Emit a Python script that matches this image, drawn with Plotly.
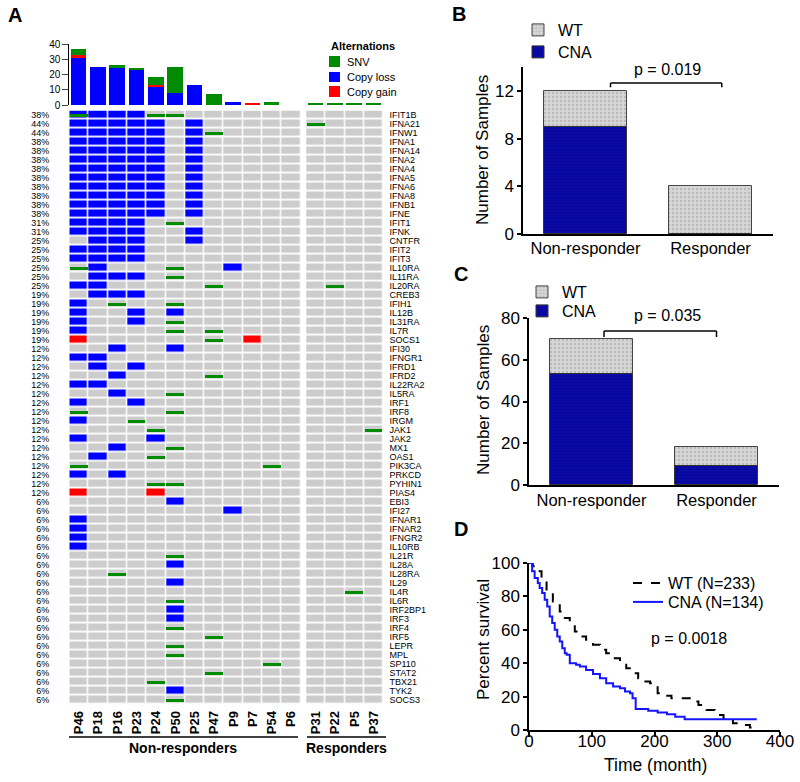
import plotly.graph_objects as go

W, H = 800, 782
def px(x): return x / W
def py(y): return 1 - y / H

FONT = "Arial, 'Liberation Sans', sans-serif"

# ---------------- Panel A data ----------------
samples = ["P46", "P18", "P16", "P23", "P24", "P50", "P25", "P47", "P9", "P7", "P54", "P6",
           "P31", "P22", "P5", "P37"]
col_pos = [0, 1, 2, 3, 4, 5, 6, 7, 8, 9, 10, 11, 12.28, 13.28, 14.28, 15.28]
n_nonresp = 12

genes = ["IFIT1B", "IFNA21", "IFNW1", "IFNA1", "IFNA14", "IFNA2", "IFNA4", "IFNA5", "IFNA6", "IFNA8",
         "IFNB1", "IFNE", "IFIT1", "IFNK", "CNTFR", "IFIT2", "IFIT3", "IL10RA", "IL11RA", "IL20RA",
         "CREB3", "IFIH1", "IL12B", "IL31RA", "IL7R", "SOCS1", "IFI30", "IFNGR1", "IFRD1", "IFRD2",
         "IL22RA2", "IL5RA", "IRF1", "IRF8", "IRGM", "JAK1", "JAK2", "MX1", "OAS1", "PIK3CA",
         "PRKCD", "PYHIN1", "PIAS4", "EBI3", "IFI27", "IFNAR1", "IFNAR2", "IFNGR2", "IL10RB", "IL21R",
         "IL28A", "IL28RA", "IL29", "IL4R", "IL6R", "IRF2BP1", "IRF3", "IRF4", "IRF5", "LEPR",
         "MPL", "SP110", "STAT2", "TBX21", "TYK2", "SOCS3"]

pct_labels = ["38%", "44%", "44%", "38%", "38%", "38%", "38%", "38%", "38%", "38%",
              "38%", "38%", "31%", "31%", "25%", "25%", "25%", "25%", "25%", "25%",
              "19%", "19%", "19%", "19%", "19%", "19%", "12%", "12%", "12%", "12%",
              "12%", "12%", "12%", "12%", "12%", "12%", "12%", "12%", "12%", "12%",
              "12%", "12%", "12%", "6%", "6%", "6%", "6%", "6%", "6%", "6%",
              "6%", "6%", "6%", "6%", "6%", "6%", "6%", "6%", "6%", "6%",
              "6%", "6%", "6%", "6%", "6%", "6%"]

# L = copy loss, G = copy gain, S = SNV, X = copy loss + SNV, . = none
alter_rows = [
    "XLLLSS...... ....", "LLLLL.L..... S...", "LLLLL.LS.... ....", "LLLLL.L..... ....",
    "LLLLL.L..... ....", "LLLLL.L..... ....", "LLLLL.L..... ....", "LLLLL.L..... ....",
    "LLLLL.L..... ....", "LLLLL.L..... ....", "LLLLL.L..... ....", "LLLLL.L..... ....",
    "LLLL.S...... ....", "LLLL..L..... ....", ".LLL..L..... ....", "LLLL........ ....",
    "LLLL........ ....", "SL...S..L... ....", ".LLL.S...... ....", "LL.....S.... .S..",
    ".LLL........ ....", "L.S..S...... ....", "L..L.L...... ....", "L..L.S...... ....",
    "L....S.S.... ....", "G......S.G.. ....", "..L..L...... ....", "LL.......... ....",
    ".L.L........ ....", "..L....S.... ....", "LL.......... ....", "..L..S...... ....",
    "L..L........ ....", "S....S...... ....", "L..S........ ....", "....S....... ...S",
    "L...L....... ....", "..L..S...... ....", ".L..S....... ....", "S.........S. ....",
    "L.L......... ....", "....SS...... ....", "G...G....... ....", ".....L...... ....",
    "........L... ....", "L........... ....", "L........... ....", "L........... ....",
    "L........... ....", ".....S...... ....", ".....L...... ....", "..S......... ....",
    ".....L...... ....", "............ ..S.", ".....S...... ....", ".....L...... ....",
    ".....L...... ....", ".....S...... ....", ".......S.... ....", ".....S...... ....",
    ".....S...... ....", "..........S. ....", ".......S.... ....", "....S....... ....",
    ".....L...... ....", ".....S...... ....",
]

top_loss = [31, 25, 24, 23, 12, 8, 13, 0, 2, 0, 0, 0, 0, 0, 0, 0]
top_gain = [2, 0, 0, 0, 1, 0, 0, 0, 0, 1, 0, 0, 0, 0, 0, 0]
top_snv = [4, 0, 2, 1, 5, 17, 0, 7, 0, 0, 2, 0, 1, 1, 1, 1]

# ---------------- Panels B / C data ----------------
groups = ["Non-responder", "Responder"]
b_cna = [9, 0]
b_wt = [3, 4]
c_cna = [53, 9]
c_wt = [17, 9]

# ---------------- Panel D data (Kaplan-Meier) ----------------
wt_t = [0, 6, 12, 20, 28, 38, 49, 57, 65, 73, 81, 91, 102, 113, 123, 134, 145, 155, 166, 174,
        182, 193, 205, 216, 227, 250, 258, 270, 283, 296, 310, 325, 340, 352, 363]
wt_s = [100, 98, 95, 89, 83, 77, 71, 67, 63, 59, 56, 54, 51, 48, 46, 43, 40, 37, 34, 31,
        29, 28, 22, 20.5, 19, 19, 17, 15, 12, 9, 6, 4, 3, 1.5, 0]
cna_t = [0, 5, 9, 14, 17, 21, 25, 29, 33, 37, 41, 45, 49, 53, 57, 60, 65, 75, 81, 91,
         102, 113, 123, 134, 145, 153, 161, 165, 170, 190, 205, 220, 233, 248, 363]
cna_s = [100, 95, 91, 88, 85, 82, 78, 74, 68, 64, 60, 56, 53, 49, 46, 45, 40, 39, 38, 36,
         33.5, 31, 28, 26, 25, 23, 22, 19, 12.5, 11.5, 10.5, 9.5, 8, 6.5, 6.5]

GRAY = "#cccccc"
BLUE = "#0000ff"
RED = "#ff0000"
GREEN = "#008b00"
NAVY = "#0a0aa6"

rows = [r.replace(" ", "") for r in alter_rows]
code = {"L": 1, "X": 1, "G": 2}

fig = go.Figure()

# heatmaps (non-responders and responders)
for cols in (range(0, n_nonresp), range(n_nonresp, len(samples))):
    cols = list(cols)
    z = [[code.get(rows[r][c], 0) for c in cols] for r in range(len(genes))]
    fig.add_trace(go.Heatmap(
        x=[col_pos[c] for c in cols], y=list(range(len(genes))), z=z,
        zmin=0, zmax=2, colorscale=[[0, GRAY], [0.33, GRAY], [0.34, BLUE], [0.66, BLUE], [0.67, RED], [1, RED]],
        showscale=False, xgap=1.5, ygap=1.8, hoverinfo="skip", xaxis="x", yaxis="y"))

# SNV marks
snv_x, snv_base = [], []
for r in range(len(genes)):
    for c in range(len(samples)):
        if rows[r][c] in "SX":
            snv_x.append(col_pos[c])
            snv_base.append(r - 0.19)
fig.add_trace(go.Bar(x=snv_x, y=[0.38] * len(snv_x), base=snv_base, width=0.92,
                     marker=dict(color=GREEN, line=dict(width=0)), showlegend=False,
                     hoverinfo="skip", xaxis="x", yaxis="y"))

# dummy trace for percentage axis
fig.add_trace(go.Scatter(x=[0], y=[0], mode="markers", marker=dict(opacity=0), showlegend=False,
                         hoverinfo="skip", xaxis="x", yaxis="y2"))

# top stacked bars
gain_base = top_loss
snv_base_top = [a + b for a, b in zip(top_loss, top_gain)]
fig.add_trace(go.Bar(x=col_pos, y=top_loss, base=[0] * len(col_pos), width=0.81,
                     marker=dict(color=BLUE, line=dict(width=0)), showlegend=False, xaxis="x2", yaxis="y3"))
fig.add_trace(go.Bar(x=col_pos, y=top_gain, base=gain_base, width=0.81,
                     marker=dict(color=RED, line=dict(width=0)), showlegend=False, xaxis="x2", yaxis="y3"))
fig.add_trace(go.Bar(x=col_pos, y=top_snv, base=snv_base_top, width=0.81,
                     marker=dict(color=GREEN, line=dict(width=0)), showlegend=False, xaxis="x2", yaxis="y3"))

# ---------------- Panel B / C bars ----------------
wt_marker = dict(color="#d6d6d6", line=dict(color="#444444", width=1),
                 pattern=dict(shape=".", fgcolor="#a0a0a0", bgcolor="#d6d6d6", size=4, solidity=0.3))
cna_marker = dict(color=NAVY, line=dict(color="#333333", width=1),
                  pattern=dict(shape="-", fgcolor="#000080", bgcolor=NAVY, size=3, solidity=0.25))

fig.add_trace(go.Bar(x=groups, y=b_wt, base=b_cna, width=0.67, name="WT", marker=wt_marker,
                     xaxis="x3", yaxis="y4", legend="legend"))
fig.add_trace(go.Bar(x=groups, y=b_cna, base=[0, 0], width=0.67, name="CNA", marker=cna_marker,
                     xaxis="x3", yaxis="y4", legend="legend2"))
fig.add_trace(go.Bar(x=groups, y=c_wt, base=c_cna, width=0.67, name="WT", marker=wt_marker,
                     xaxis="x4", yaxis="y5", legend="legend3"))
fig.add_trace(go.Bar(x=groups, y=c_cna, base=[0, 0], width=0.67, name="CNA", marker=cna_marker,
                     xaxis="x4", yaxis="y5", legend="legend4"))

# ---------------- Panel D ----------------
fig.add_trace(go.Scatter(x=wt_t, y=wt_s, mode="lines", line=dict(color="black", width=2, dash="dash", shape="hv"),
                         name="WT (N=233)", xaxis="x5", yaxis="y6", legend="legend5"))
fig.add_trace(go.Scatter(x=cna_t, y=cna_s, mode="lines", line=dict(color="#1414ff", width=2, shape="hv"),
                         name="CNA (N=134)", xaxis="x5", yaxis="y6", legend="legend6"))

# ---------------- Layout ----------------
mx_dom = [px(69.3), px(383.5)]
xr = [-0.5, 15.78]
axis_common = dict(showline=True, linecolor="black", linewidth=1.5, ticks="outside", tickcolor="black",
                   tickwidth=1.5, ticklen=5, showgrid=False, zeroline=False, automargin=False,
                   tickfont=dict(size=17, color="black"))

layout = dict(
    width=W, height=H, margin=dict(l=0, r=0, t=0, b=0, pad=0, autoexpand=False),
    paper_bgcolor="white", plot_bgcolor="white",
    font=dict(family=FONT, color="black"),
    barmode="overlay", bargap=0,
    xaxis=dict(domain=mx_dom, range=xr, anchor="y", showgrid=False, zeroline=False, showline=False,
               tickvals=col_pos, ticktext=["<b>%s</b>" % s for s in samples], tickangle=-90, automargin=False,
               tickfont=dict(size=13, color="black"), ticks="", ticklabelstandoff=3),
    yaxis=dict(domain=[py(704.5), py(110.5)], range=[len(genes) - 0.5, -0.5], anchor="x", side="right",
               tickvals=list(range(len(genes))), ticktext=genes, tickfont=dict(size=9, color="black"),
               showgrid=False, zeroline=False, showline=False, ticks="", ticklabelstandoff=5, automargin=False),
    yaxis2=dict(overlaying="y", side="left", anchor="x", range=[len(genes) - 0.5, -0.5],
                tickvals=list(range(len(genes))), ticktext=pct_labels, tickfont=dict(size=9, color="black"),
                showgrid=False, zeroline=False, showline=False, ticks="", ticklabelstandoff=19, automargin=False),
    xaxis2=dict(domain=mx_dom, range=xr, anchor="y3", visible=False, automargin=False),
    yaxis3=dict(domain=[py(105), py(44.3)], range=[0, 40], anchor="x2", tickvals=[0, 10, 20, 30, 40],
                showline=True, linecolor="black", linewidth=1, ticks="outside", ticklen=6, tickwidth=1,
                tickfont=dict(size=10, color="black"), showgrid=False, zeroline=False, automargin=False),
    xaxis3=dict(axis_common, domain=[px(523), px(773)], range=[-0.5, 1.5], anchor="y4", ticks="",
                tickfont=dict(size=16.5, color="black"), ticklabelstandoff=-2, type="category"),
    yaxis4=dict(axis_common, domain=[py(234), py(67)], range=[0, 14], anchor="x3", tickvals=[0, 4, 8, 12], ticklen=4),
    xaxis4=dict(axis_common, domain=[px(529), px(779)], range=[-0.5, 1.5], anchor="y5", ticks="",
                tickfont=dict(size=16.5, color="black"), ticklabelstandoff=-1, type="category"),
    yaxis5=dict(axis_common, domain=[py(485), py(318)], range=[0, 80], anchor="x4", tickvals=[0, 20, 40, 60, 80], ticklen=4),
    xaxis5=dict(axis_common, domain=[px(529), px(780)], range=[0, 400], anchor="y6", tickvals=[0, 100, 200, 300, 400],
                ticklabelstandoff=-10),
    yaxis6=dict(axis_common, domain=[py(730), py(563)], range=[0, 100], anchor="x5",
                tickvals=[0, 20, 40, 60, 80, 100], ticklen=4),
)

leg = dict(bgcolor="rgba(0,0,0,0)", font=dict(size=16, color="black"), xanchor="left", yanchor="middle",
           borderwidth=0)
layout["legend"] = dict(leg, x=px(518), y=py(30))
layout["legend2"] = dict(leg, x=px(518), y=py(52))
layout["legend3"] = dict(leg, x=px(522), y=py(292))
layout["legend4"] = dict(leg, x=px(522), y=py(311))
layout["legend5"] = dict(leg, x=px(628), y=py(583))
layout["legend6"] = dict(leg, x=px(628), y=py(602))

fig.update_layout(**layout)

ann = []
def text(x, y, s, size, bold=False, xanchor="center", angle=0):
    ann.append(dict(x=px(x), y=py(y), xref="paper", yref="paper", text=("<b>%s</b>" % s) if bold else s,
                    showarrow=False, xanchor=xanchor, yanchor="middle", textangle=angle,
                    font=dict(size=size, color="black", family=FONT)))

text(15, 15, "A", 20, True)
text(459, 14, "B", 20, True)
text(461, 274, "C", 20, True)
text(461, 529, "D", 20, True)

text(183, 748, "Non-responders", 14, True)
text(346, 748, "Responders", 14, True)

text(329, 46, "Alternations", 11, True, "left")
text(345, 61.5, "SNV", 11, False, "left")
text(345, 77, "Copy loss", 11, False, "left")
text(345, 91.5, "Copy gain", 11, False, "left")

text(667, 69, "p = 0.019", 16)
text(667, 315, "p = 0.035", 16)
text(689, 638, "p = 0.0018", 16)

text(483, 150, "Number of Samples", 17, angle=-90)
text(483, 400, "Number of Samples", 17, angle=-90)
text(483, 640, "Percent survival", 17, angle=-90)
text(655, 765, "Time (month)", 17.5)

shapes = []
# Alternations legend swatches
for (y0, y1), col in zip([(56, 67), (72, 82), (86, 97)], [GREEN, BLUE, RED]):
    shapes.append(dict(type="rect", xref="paper", yref="paper", x0=px(329), x1=px(340), y0=py(y1), y1=py(y0),
                       fillcolor=col, line=dict(width=0)))
# group underlines
for x0, x1 in [(69, 298), (307, 386)]:
    shapes.append(dict(type="line", xref="paper", yref="paper", x0=px(x0), x1=px(x1), y0=py(737), y1=py(737),
                       line=dict(color="black", width=1.5)))
# significance brackets
def bracket(xa, ya, x0, x1, ytop, ybot):
    shapes.append(dict(type="line", xref=xa, yref=ya, x0=x0, x1=x1, y0=ytop, y1=ytop, line=dict(color="black", width=1.5)))
    shapes.append(dict(type="line", xref=xa, yref=ya, x0=x0, x1=x0, y0=ytop, y1=ybot, line=dict(color="black", width=1.5)))
    shapes.append(dict(type="line", xref=xa, yref=ya, x0=x1, x1=x1, y0=ytop, y1=ybot, line=dict(color="black", width=1.5)))
bracket("x3", "y4", 0.2, 1.09, 12.65, 12.3)
bracket("x4", "y5", 0.1, 1.0, 73.8, 70.9)

fig.update_layout(annotations=ann, shapes=shapes)

fig.write_html("out.html", config={"displayModeBar": False},
               post_script="document.body.style.margin='0';document.body.style.overflow='hidden';")
